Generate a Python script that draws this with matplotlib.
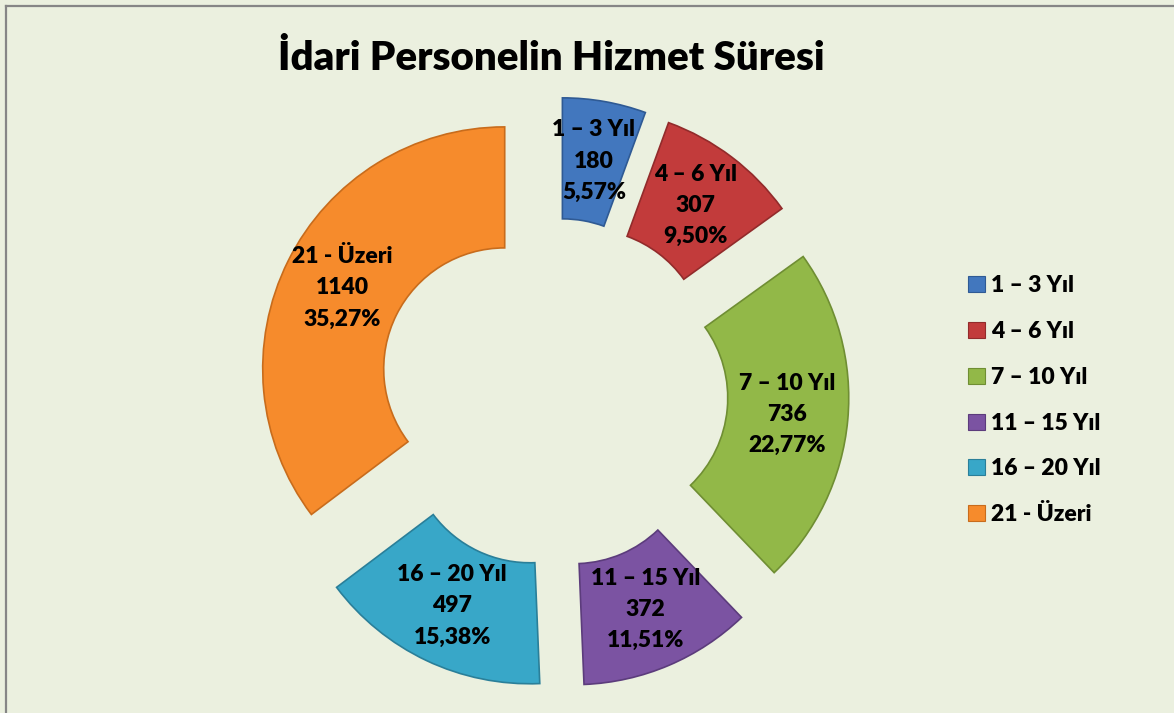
import numpy as np
import matplotlib
matplotlib.use("Agg")
import matplotlib.pyplot as plt
from matplotlib.patches import Patch

categories = ["1 – 3 Yıl", "4 – 6 Yıl", "7 – 10 Yıl", "11 – 15 Yıl", "16 – 20 Yıl", "21 - Üzeri"]
values = [180, 307, 736, 372, 497, 1140]
percent_labels = ["5,57%", "9,50%", "22,77%", "11,51%", "15,38%", "35,27%"]
colors = ["#4277BE", "#C23B3B", "#92B848", "#7B53A2", "#38A7C8", "#F68B2C"]
edges = ["#2F5A94", "#922B2B", "#6F8E33", "#5C3C7C", "#2A7F99", "#C86C1C"]
title = "İdari Personelin Hizmet Süresi"

W, H = 1174, 713
cx, cy, R = 553, 393, 242

plt.rcParams['font.family'] = ['Lato', 'DejaVu Sans']
fig = plt.figure(figsize=(W / 100, H / 100), dpi=100)
fig.patch.set_facecolor("#EBF0DF")
ax = fig.add_axes([0, 0, 1, 1])
ax.set_facecolor("#EBF0DF")

wedges, _ = ax.pie(values, startangle=90, counterclock=False, radius=1,
                   explode=[0.223] * len(values), colors=colors,
                   wedgeprops=dict(width=0.5, linewidth=1.2))
for w, ec in zip(wedges, edges):
    w.set_edgecolor(ec)

for w, cat, v, p in zip(wedges, categories, values, percent_labels):
    mid = np.deg2rad((w.theta1 + w.theta2) / 2)
    rm = w.r - w.width / 2
    x = w.center[0] + rm * np.cos(mid)
    y = w.center[1] + rm * np.sin(mid)
    ax.text(x, y, f"{cat}\n{v}\n{p}", ha="center", va="center",
            fontsize=16.5, fontweight="heavy", linespacing=1.6, color="black")

ax.set_xlim(-cx / R, (W - cx) / R)
ax.set_ylim(-(H - cy) / R, cy / R)
ax.set_aspect("equal")
ax.axis("off")

fig.text(551 / W, 1 - 58 / H, title, ha="center", va="center",
         fontsize=29, fontweight="heavy")

handles = [Patch(facecolor=c, edgecolor=e, linewidth=0.8) for c, e in zip(colors, edges)]
leg = fig.legend(handles, categories, loc="upper left",
                 bbox_to_anchor=(957 / W, 1 - 264 / H), frameon=False,
                 handlelength=0.7, handleheight=0.7, handletextpad=0.3,
                 labelspacing=1.08, borderpad=0, prop=dict(size=16.5, weight="heavy"))

# chart area border (left and top)
fig.add_artist(plt.Line2D([5.5 / W, 5.5 / W], [0, 1 - 5.5 / H], transform=fig.transFigure,
                          color="#868686", linewidth=1.6))
fig.add_artist(plt.Line2D([5.5 / W, 1], [1 - 5.5 / H, 1 - 5.5 / H], transform=fig.transFigure,
                          color="#868686", linewidth=1.6))

fig.savefig("out.png", dpi=100, facecolor=fig.get_facecolor())
